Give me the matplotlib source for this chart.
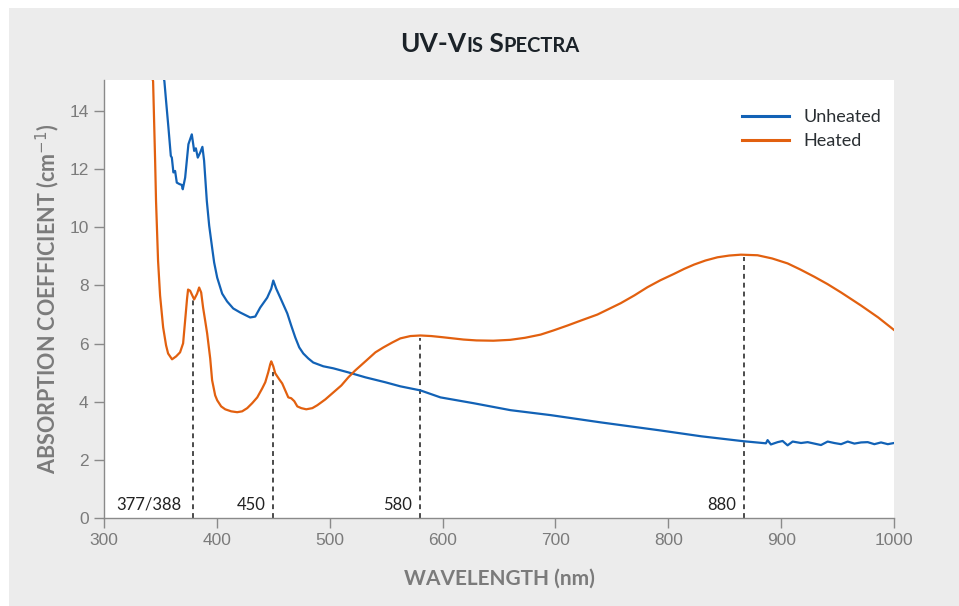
import numpy as np
import matplotlib
matplotlib.use("Agg")
from matplotlib import pyplot as plt
from matplotlib.patches import Rectangle

# values
unheated_nm = [351.5, 353.5, 355.0, 357.1, 359.2, 360.1, 361.5, 363.0, 364.5, 366.8, 368.9, 369.8,
               371.9, 374.8, 377.8, 379.9, 381.4, 383.1, 385.2, 387.2, 388.7, 391.1,
               393.2, 395.8, 397.6, 400.3, 404.7, 409.1, 414.5, 420.7, 429.5,
               434.0, 438.4, 444.6, 448.2, 450.0, 452.6, 456.2, 462.4, 465.9, 469.5, 473.0, 476.6,
               481.0, 485.4, 494.3, 503.2, 516.5, 531.6, 549.3, 562.6, 580.4, 598.1, 627.4, 660.2,
               695.7, 740.1, 791.6, 829.4, 867.0, 886.5, 888.0, 890.9, 896.9, 901.3, 905.7, 910.2,
               917.6, 923.5, 929.4, 935.3, 941.2, 947.1, 953.1, 959.0, 964.9, 970.8, 976.7, 982.6,
               988.5, 994.5, 1000.0]
unheated_abs = [15.37, 15.03, 14.35, 13.43, 12.46, 12.40, 11.89, 11.94, 11.54, 11.49, 11.46, 11.31,
                11.71, 12.86, 13.20, 12.63, 12.72, 12.40, 12.57, 12.77, 12.29, 10.91,
                10.06, 9.30, 8.79, 8.27, 7.72, 7.45, 7.21, 7.07, 6.90,
                6.93, 7.24, 7.58, 7.89, 8.17, 7.89, 7.58, 7.04, 6.62, 6.21, 5.87, 5.66,
                5.49, 5.35, 5.22, 5.15, 5.01, 4.84, 4.67, 4.53, 4.39, 4.15, 3.95, 3.71,
                3.54, 3.29, 3.02, 2.81, 2.64, 2.57, 2.68, 2.53, 2.61, 2.65, 2.50, 2.63,
                2.58, 2.61, 2.56, 2.51, 2.63, 2.58, 2.54, 2.63, 2.56, 2.60, 2.61, 2.54,
                2.60, 2.54, 2.58]

heated_nm = [340.8, 343.5, 345.3, 346.1, 347.9, 349.7, 352.4, 355.0, 356.8, 360.3, 363.9, 367.4,
             370.1, 371.9, 373.6, 374.5, 376.3, 379.9, 382.5, 384.3, 386.1, 387.8, 389.6, 391.4,
             394.1, 395.8, 398.5, 400.3, 403.8, 407.4, 412.7, 418.0, 422.4, 426.9, 431.3, 435.8,
             440.2, 442.9, 445.5, 447.3, 448.2, 450.0, 451.7, 455.3, 457.9, 460.6, 463.3, 465.9,
             468.6, 471.3, 474.8, 479.2, 484.6, 489.0, 496.1, 503.2, 510.3, 516.5, 522.7, 532.5,
             540.5, 547.6, 555.5, 562.6, 571.5, 580.4, 590.0, 600.0, 618.5, 630.0, 645.0, 660.0,
             673.0, 686.9, 698.0, 710.5, 723.0, 737.2, 757.8, 770.0, 781.5, 793.0, 805.1, 814.0,
             822.9, 833.0, 843.6, 854.0, 864.3, 879.1, 892.0, 905.7, 917.0, 929.4, 941.0, 953.1,
             970.8, 986.0, 1000.0]
heated_abs = [15.37, 15.03, 12.29, 10.91, 8.85, 7.65, 6.56, 5.94, 5.66, 5.46, 5.56, 5.70,
              6.01, 6.80, 7.55, 7.86, 7.82, 7.52, 7.72, 7.93, 7.76, 7.24, 6.80, 6.35,
              5.49, 4.74, 4.22, 4.05, 3.84, 3.74, 3.67, 3.64, 3.67, 3.78, 3.95, 4.15,
              4.46, 4.67, 5.01, 5.29, 5.39, 5.22, 4.98, 4.77, 4.63, 4.39, 4.15, 4.12,
              4.02, 3.84, 3.78, 3.74, 3.78, 3.88, 4.08, 4.32, 4.56, 4.84, 5.08, 5.42,
              5.70, 5.87, 6.04, 6.18, 6.26, 6.28, 6.26, 6.22, 6.14, 6.11, 6.10, 6.13,
              6.20, 6.31, 6.45, 6.62, 6.80, 7.00, 7.39, 7.66, 7.94, 8.18, 8.40, 8.57,
              8.72, 8.86, 8.97, 9.03, 9.06, 9.04, 8.93, 8.76, 8.55, 8.30, 8.05, 7.76,
              7.31, 6.90, 6.47]

# dashed marker lines: position, height, label
peak_x = [379.0, 450.0, 580.4, 867.0]
peak_top = [7.50, 5.01, 6.18, 8.98]
peak_labels = ["377/388", "450", "580", "880"]
label_gap = [12, 8, 8, 8]  # pixels left of the line

BLUE = "#1262b6"
ORANGE = "#e2600f"
GREY = "#7b7b7b"

fig = plt.figure(figsize=(9.59, 6.06), dpi=100, facecolor="white")
fig.patches.append(Rectangle((9 / 959, 0), 1, 1 - 8 / 606, transform=fig.transFigure,
                             facecolor="#ececec", edgecolor="none", zorder=-10))

ax = fig.add_axes([104 / 959, 1 - 518 / 606, 790 / 959, 438 / 606])
ax.set_facecolor("white")

ax.plot(unheated_nm, unheated_abs, color=BLUE, lw=1.6, label="Unheated", zorder=3)
ax.plot(heated_nm, heated_abs, color=ORANGE, lw=1.6, label="Heated", zorder=3)

for x, top, lab, gap in zip(peak_x, peak_top, peak_labels, label_gap):
    ax.plot([x, x], [0, top], color="#1a1a1a", lw=1.1, ls=(0, (3.2, 2.6)), zorder=2)
    ax.annotate(lab, xy=(x, 0.45), xytext=(-gap * 0.72, 0), textcoords="offset points",
                ha="right", va="center", fontsize=12, color="#222222", family="Lato")

ax.set_xlim(300, 1000)
ax.set_ylim(0, 15.07)
ax.set_xticks(np.arange(300, 1001, 100))
ax.set_yticks(np.arange(0, 15, 2))

for s in ["top", "right"]:
    ax.spines[s].set_visible(False)
for s in ["left", "bottom"]:
    ax.spines[s].set_color("#8a8a8a")
    ax.spines[s].set_linewidth(1.0)
ax.tick_params(direction="out", length=7, width=1, color="#8a8a8a",
               labelcolor=GREY, labelsize=12.5, pad=4)
for t in ax.get_xticklabels() + ax.get_yticklabels():
    t.set_family("Liberation Sans")

ax.set_xlabel("WAVELENGTH (nm)", fontsize=15, fontweight="bold", color=GREY,
              family="Lato", labelpad=15)
ax.set_ylabel("ABSORPTION COEFFICIENT (cm$^{-1}$)", fontsize=15.5, fontweight="bold",
              color=GREY, family="Lato", labelpad=5)

leg = ax.legend(loc="upper left", bbox_to_anchor=(0.808, 0.934), frameon=False,
                handlelength=2.6, handletextpad=0.8, borderpad=0, borderaxespad=0,
                labelspacing=0.45, prop={"family": "Lato", "size": 13})
for t in leg.get_texts():
    t.set_color("#2a2f33")
for h in leg.legend_handles:
    h.set_linewidth(2.2)

# title in simulated small caps
pieces = [("UV-V", 19), ("IS", 14.5), (" S", 19), ("PECTRA", 14.5)]
fig.canvas.draw()
r = fig.canvas.get_renderer()
texts = []
for s, fs in pieces:
    t = fig.text(0, 1 - 52 / 606, s, fontsize=fs, fontweight="bold", color="#1b2228",
                 family="Lato", va="baseline", ha="left")
    texts.append(t)
widths = [t.get_window_extent(r).width for t in texts]
x0 = 490 - sum(widths) / 2
for t, w in zip(texts, widths):
    t.set_x(x0 / 959)
    x0 += w

fig.savefig("out.png", dpi=100, facecolor=fig.get_facecolor())
